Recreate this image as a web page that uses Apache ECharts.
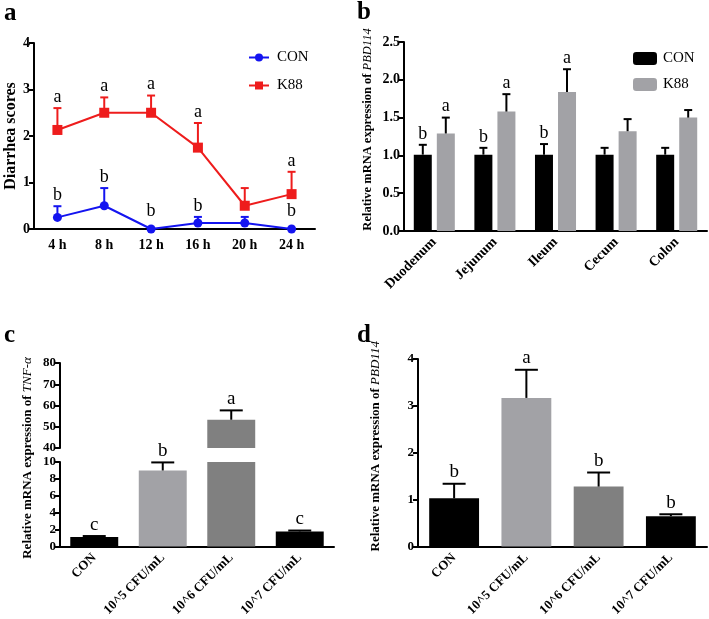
<!DOCTYPE html>
<html>
<head>
<meta charset="utf-8">
<script src="https://cdn.jsdelivr.net/npm/echarts@6/dist/echarts.min.js"></script>
<style>
html,body{margin:0;padding:0;background:#fff;}
#chart{width:709px;height:619px;}
</style>
</head>
<body>
<div id="chart"></div>
<script>
// ---------- Data ----------
// Panel a: diarrhea scores
const hours = ['4 h', '8 h', '12 h', '16 h', '20 h', '24 h'];
const conScore = [0.25, 0.5, 0, 0.13, 0.13, 0];
const conScoreErr = [0.49, 0.88, 0, 0.26, 0.26, 0];
const conScoreLetters = ['b', 'b', 'b', 'b', '', 'b'];
const k88Score = [2.13, 2.5, 2.5, 1.75, 0.5, 0.75];
const k88ScoreErr = [2.6, 2.83, 2.87, 2.28, 0.88, 1.23];
const k88ScoreLetters = ['a', 'a', 'a', 'a', '', 'a'];
const scoreTicks = [0, 4, 1];

// Panel b: PBD114 in intestinal segments
const segments = ['Duodenum', 'Jejunum', 'Ileum', 'Cecum', 'Colon'];
const conPBD = [1.01, 1.01, 1.01, 1.01, 1.01];
const conPBDErr = [1.14, 1.10, 1.15, 1.10, 1.10];
const conPBDLetters = ['b', 'b', 'b', '', ''];
const k88PBD = [1.29, 1.58, 1.84, 1.32, 1.50];
const k88PBDErr = [1.50, 1.81, 2.14, 1.48, 1.60];
const k88PBDLetters = ['a', 'a', 'a', '', ''];
const pbdSegTicks = [0, 2.5, 0.5];

// Panel c: TNF-alpha by dose (broken axis)
const doses = ['CON', '10^5 CFU/mL', '10^6 CFU/mL', '10^7 CFU/mL'];
const tnf = [1.15, 9.0, 53.3, 1.8];
const tnfErr = [1.25, 9.95, 57.7, 1.9];
const tnfLetters = ['c', 'b', 'a', 'c'];
const tnfLowTicks = [0, 10, 2];
const tnfHighTicks = [40, 80, 10];

// Panel d: PBD114 by dose
const pbdDose = [1.03, 3.17, 1.28, 0.65];
const pbdDoseErr = [1.34, 3.77, 1.58, 0.69];
const pbdDoseLetters = ['b', 'a', 'b', 'b'];
const pbdDoseTicks = [0, 4, 1];

// ---------- Styles ----------
const SERIF = '"Liberation Serif","Times New Roman",serif';
const BLUE = '#1414f0';
const RED = '#ee1c1c';
const GREY_L = '#a2a2a6';
const GREY_D = '#808080';
const doseColors = ['#000000', GREY_L, GREY_D, '#000000'];

const axisLine = {lineStyle: {color: '#000', width: 2}};
const axisTick = {lineStyle: {color: '#000', width: 2}, length: 5};
const tickLabel = (size) => ({color: '#000', fontFamily: SERIF, fontWeight: 'bold', fontSize: size});

function errSeries(o) {
  return {
    type: 'custom',
    xAxisIndex: o.axis, yAxisIndex: o.axis,
    silent: true, z: 10,
    data: o.vals.map((v, i) => [i, v, o.errs[i]]),
    renderItem: function (params, api) {
      const i = api.value(0), v = api.value(1), e = api.value(2);
      if (o.filter && !o.filter(v, e)) return;
      const p0 = api.coord([i, v]);
      const p1 = api.coord([i, e]);
      const x = p0[0] + (o.offset || 0);
      const st = {stroke: o.color, lineWidth: 2};
      const ch = [];
      if (e > v) {
        ch.push({type: 'line', shape: {x1: x, y1: p0[1], x2: x, y2: p1[1]}, style: st});
        ch.push({type: 'line', shape: {x1: x - o.cap, y1: p1[1], x2: x + o.cap, y2: p1[1]}, style: st});
      }
      const letter = o.letters[params.dataIndex];
      if (letter) {
        ch.push({
          type: 'text',
          style: {
            text: letter, x: x, y: p1[1] - (e > v ? 2 : 9),
            align: 'center', verticalAlign: 'bottom',
            fontFamily: SERIF, fontSize: o.fs, fill: '#000'
          }
        });
      }
      return {type: 'group', children: ch};
    }
  };
}

const chart = echarts.init(document.getElementById('chart'), null, {renderer: 'canvas'});

const option = {
  backgroundColor: '#fff',
  animation: false,
  textStyle: {fontFamily: SERIF},
  grid: [
    {left: 34, top: 43, width: 281, height: 186, containLabel: false},
    {left: 404, top: 42, width: 303, height: 189, containLabel: false},
    {left: 60, top: 363, width: 274, height: 85, containLabel: false},
    {left: 60, top: 462, width: 274, height: 85, containLabel: false},
    {left: 418, top: 359, width: 289, height: 188, containLabel: false}
  ],
  legend: [
    {
      orient: 'vertical', left: 243, top: 45, itemWidth: 20, itemHeight: 10, itemGap: 13,
      data: ['CON', 'K88'].map(n => ({name: n})),
      textStyle: {fontFamily: SERIF, fontSize: 15, color: '#000', padding: [0, 0, 0, 3]},
      seriesIndex: [0, 1]
    },
    {
      orient: 'vertical', left: 628, top: 46, itemWidth: 24, itemHeight: 13, itemGap: 11,
      data: [{name: 'CON '}, {name: 'K88 '}],
      textStyle: {fontFamily: SERIF, fontSize: 15, color: '#000', padding: [0, 0, 0, 1]}
    }
  ],
  xAxis: [
    {gridIndex: 0, type: 'category', data: hours, axisLine, axisTick: {...axisTick, alignWithLabel: true},
      axisLabel: {...tickLabel(14), margin: 9}},
    {gridIndex: 1, type: 'category', data: segments, axisLine, axisTick: {...axisTick, alignWithLabel: true},
      axisLabel: {...tickLabel(14), rotate: 45, margin: 9}},
    {gridIndex: 2, type: 'category', data: doses, show: false},
    {gridIndex: 3, type: 'category', data: doses, axisLine, axisTick: {...axisTick, alignWithLabel: true},
      axisLabel: {...tickLabel(13), rotate: 45, margin: 9}},
    {gridIndex: 4, type: 'category', data: doses, axisLine, axisTick: {...axisTick, alignWithLabel: true},
      axisLabel: {...tickLabel(13), rotate: 45, margin: 9}}
  ],
  yAxis: [
    {gridIndex: 0, type: 'value', min: scoreTicks[0], max: scoreTicks[1], interval: scoreTicks[2],
      splitLine: {show: false}, axisLine: {show: true, ...axisLine}, axisTick: {show: true, ...axisTick},
      axisLabel: {...tickLabel(14), margin: 4},
      name: 'Diarrhea scores', nameLocation: 'middle', nameGap: 13,
      nameTextStyle: {fontFamily: SERIF, fontWeight: 'bold', fontSize: 16, color: '#000'}},
    {gridIndex: 1, type: 'value', min: pbdSegTicks[0], max: pbdSegTicks[1], interval: pbdSegTicks[2],
      splitLine: {show: false}, axisLine: {show: true, ...axisLine}, axisTick: {show: true, ...axisTick},
      axisLabel: {...tickLabel(14), margin: 4, formatter: v => v.toFixed(1)},
      name: '{n|Relative mRNA expression of }{i|PBD114}', nameLocation: 'middle', nameGap: 30,
      nameTextStyle: {color: '#000', padding: [0, 0, 0, 14], rich: {
        n: {fontFamily: SERIF, fontWeight: 'bold', fontSize: 12.5, color: '#000'},
        i: {fontFamily: SERIF, fontStyle: 'italic', fontSize: 12.5, color: '#000'}}}},
    {gridIndex: 2, type: 'value', min: tnfHighTicks[0], max: tnfHighTicks[1], interval: tnfHighTicks[2],
      splitLine: {show: false}, axisLine: {show: true, ...axisLine}, axisTick: {show: true, ...axisTick},
      axisLabel: {...tickLabel(13), margin: 4}},
    {gridIndex: 3, type: 'value', min: tnfLowTicks[0], max: tnfLowTicks[1], interval: tnfLowTicks[2],
      splitLine: {show: false}, axisLine: {show: true, ...axisLine}, axisTick: {show: true, ...axisTick},
      axisLabel: {...tickLabel(13), margin: 4}},
    {gridIndex: 4, type: 'value', min: pbdDoseTicks[0], max: pbdDoseTicks[1], interval: pbdDoseTicks[2],
      splitLine: {show: false}, axisLine: {show: true, ...axisLine}, axisTick: {show: true, ...axisTick},
      axisLabel: {...tickLabel(13), margin: 4},
      name: '{n|Relative mRNA expression of }{i|PBD114}', nameLocation: 'middle', nameGap: 36,
      nameTextStyle: {color: '#000', padding: [0, 0, 0, 13], rich: {
        n: {fontFamily: SERIF, fontWeight: 'bold', fontSize: 13, color: '#000'},
        i: {fontFamily: SERIF, fontStyle: 'italic', fontSize: 13, color: '#000'}}}}
  ],
  graphic: [
    {type: 'text', left: 4, top: 1, style: {text: 'a', font: 'bold 25px ' + SERIF, fill: '#000'}},
    {type: 'text', left: 357, top: 0, style: {text: 'b', font: 'bold 25px ' + SERIF, fill: '#000'}},
    {type: 'text', left: 4, top: 323, style: {text: 'c', font: 'bold 25px ' + SERIF, fill: '#000'}},
    {type: 'text', left: 357, top: 323, style: {text: 'd', font: 'bold 25px ' + SERIF, fill: '#000'}},
    {type: 'text', x: 28, y: 458, rotation: Math.PI / 2, z: 20,
      style: {text: '{n|Relative mRNA expression of }{i|TNF-α}', align: 'center', verticalAlign: 'middle',
        rich: {
          n: {fontFamily: SERIF, fontWeight: 'bold', fontSize: 13, fill: '#000'},
          i: {fontFamily: SERIF, fontStyle: 'italic', fontSize: 13, fill: '#000'}
        }}}
  ],
  series: [
    {name: 'CON', type: 'line', xAxisIndex: 0, yAxisIndex: 0, data: conScore, color: BLUE,
      symbol: 'circle', symbolSize: 9, lineStyle: {width: 2}, z: 5},
    {name: 'K88', type: 'line', xAxisIndex: 0, yAxisIndex: 0, data: k88Score, color: RED,
      symbol: 'rect', symbolSize: 10, lineStyle: {width: 2}, z: 5},
    errSeries({axis: 0, vals: conScore, errs: conScoreErr, letters: conScoreLetters, color: BLUE, cap: 4, fs: 18}),
    errSeries({axis: 0, vals: k88Score, errs: k88ScoreErr, letters: k88ScoreLetters, color: RED, cap: 4, fs: 18}),

    {name: 'CON ', type: 'bar', xAxisIndex: 1, yAxisIndex: 1, data: conPBD, color: '#000',
      barWidth: 18, barGap: '28%'},
    {name: 'K88 ', type: 'bar', xAxisIndex: 1, yAxisIndex: 1, data: k88PBD, color: GREY_L,
      barWidth: 18, barGap: '28%'},
    errSeries({axis: 1, vals: conPBD, errs: conPBDErr, letters: conPBDLetters, color: '#000', cap: 4, fs: 18, offset: -11.5}),
    errSeries({axis: 1, vals: k88PBD, errs: k88PBDErr, letters: k88PBDLetters, color: '#000', cap: 4, fs: 18, offset: 11.5}),

    {type: 'bar', xAxisIndex: 2, yAxisIndex: 2, barWidth: '70%', clip: true,
      data: tnf.map((v, i) => ({value: v, itemStyle: {color: doseColors[i]}}))},
    {type: 'bar', xAxisIndex: 3, yAxisIndex: 3, barWidth: '70%', clip: true,
      data: tnf.map((v, i) => ({value: v, itemStyle: {color: doseColors[i]}}))},
    errSeries({axis: 2, vals: tnf, errs: tnfErr, letters: tnfLetters, color: '#000', cap: 11.5, fs: 19,
      filter: (v, e) => v >= tnfHighTicks[0]}),
    errSeries({axis: 3, vals: tnf, errs: tnfErr, letters: tnfLetters, color: '#000', cap: 11.5, fs: 19,
      filter: (v, e) => e <= tnfLowTicks[1]}),

    {type: 'bar', xAxisIndex: 4, yAxisIndex: 4, barWidth: '69%',
      data: pbdDose.map((v, i) => ({value: v, itemStyle: {color: doseColors[i]}}))},
    errSeries({axis: 4, vals: pbdDose, errs: pbdDoseErr, letters: pbdDoseLetters, color: '#000', cap: 11.5, fs: 19})
  ]
};
chart.setOption(option);
</script>
</body>
</html>
